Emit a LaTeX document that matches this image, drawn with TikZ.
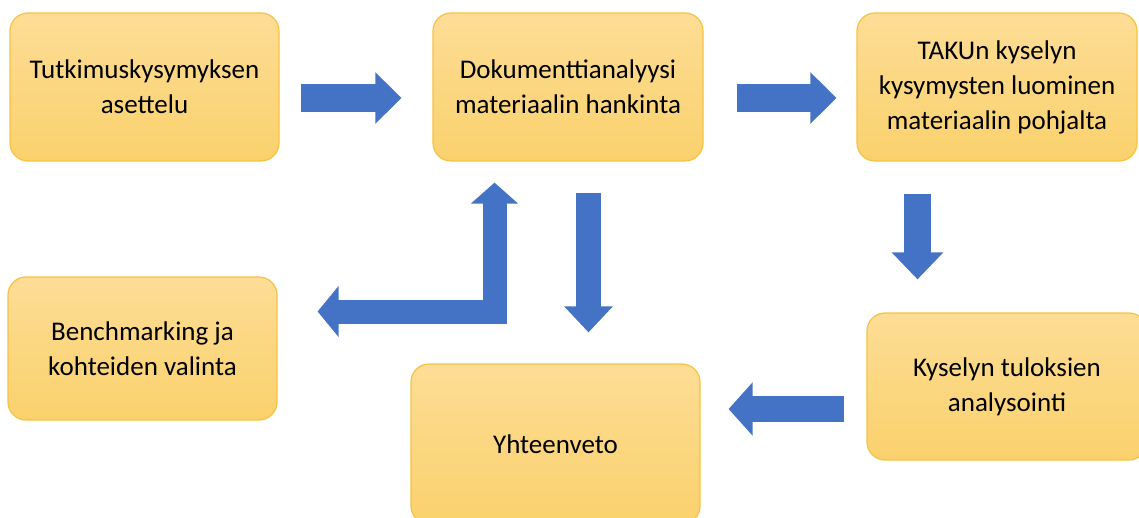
\documentclass[tikz,border=0pt]{standalone}
\usepackage{fontspec}
\setmainfont{Carlito}
\usepackage{xcolor}
\usetikzlibrary{arrows.meta, calc, positioning}
\definecolor{boxtop}{RGB}{253,221,150}
\definecolor{boxbottom}{RGB}{250,209,108}
\definecolor{boxline}{RGB}{246,194,66}
\definecolor{arrowblue}{RGB}{68,114,196}

\begin{document}
\begin{tikzpicture}[
  x=0.5pt, y=-0.5pt,
  font=\fontsize{13.5}{17.5}\selectfont,
  phasebox/.style={draw=boxline, line width=0.6pt, top color=boxtop, bottom color=boxbottom, rounded corners=9pt, align=center, inner sep=0pt},
  blockarrow/.style={draw=arrowblue, line cap=butt, line join=miter}
]
\useasboundingbox (0,0) rectangle (1139,518);

% vaiheet
\node[phasebox, minimum width=134.5pt, minimum height=74pt] (tut) at (144.5,87) {Tutkimuskysymyksen\\asettelu};
\node[phasebox, minimum width=135pt, minimum height=74pt] (dok) at (568,87) {Dokumenttianalyysi\\materiaalin hankinta};
\node[phasebox, minimum width=140pt, minimum height=74pt] (taku) at (997,87) {TAKUn kyselyn\\kysymysten luominen\\materiaalin pohjalta};
\node[phasebox, minimum width=134.5pt, minimum height=71.5pt] (bench) at (142.5,348.5) {Benchmarking ja\\kohteiden valinta};
\node[phasebox, minimum width=144.5pt, minimum height=80pt] (yht) at (555.5,444) {Yhteenveto};
\node[phasebox, minimum width=140pt, minimum height=73.5pt] (kys) at (1007,386.5) {Kyselyn tuloksien\\analysointi};

% nuolet
\draw[blockarrow, line width=14pt, -{Triangle[width=25pt,length=13pt]}] ($(tut.east)+(21,11)$) -- ($(dok.west)+(-31,11)$);
\draw[blockarrow, line width=14pt, -{Triangle[width=25pt,length=13pt]}] ($(dok.east)+(33,11)$) -- ($(taku.west)+(-20,11)$);
\draw[blockarrow, line width=13.5pt, -{Triangle[width=25pt,length=13.5pt]}] ($(taku.south)+(-79.5,32)$) -- ($(kys.north)+(-89.5,-33)$);
\draw[blockarrow, line width=13pt, -{Triangle[width=26pt,length=12pt]}] ($(kys.west)+(-22,22.5)$) -- ($(yht.east)+(28,-35)$);
\draw[blockarrow, line width=12.5pt, -{Triangle[width=23.5pt,length=13pt]}] ($(dok.south)+(20.5,31)$) -- ($(yht.north)+(33,-31)$);
\draw[blockarrow, line width=12pt, {Triangle[width=25pt,length=10.5pt]}-{Triangle[width=23pt,length=10.5pt]}] ($(bench.east)+(40,-37)$) -| ($(dok.south)+(-73.5,21)$);
\end{tikzpicture}
\end{document}
